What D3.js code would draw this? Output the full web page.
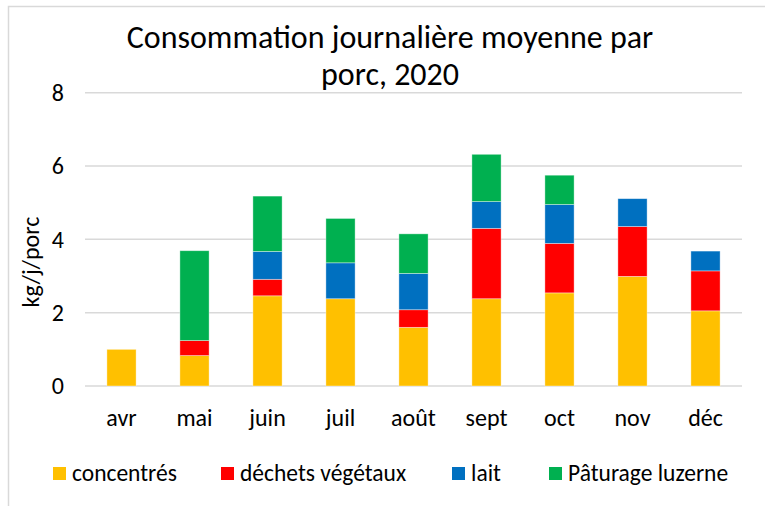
<!DOCTYPE html>
<html>
<head>
<meta charset="utf-8">
<script src="https://cdn.jsdelivr.net/npm/d3@7"></script>
<style>
  body { margin: 0; background: #fff; }
  svg { display: block; font-family: Carlito, Calibri, Lato, sans-serif; }
</style>
</head>
<body>
<div id="chart"></div>
<script>
// données (kg/j/porc)
const months = ["avr", "mai", "juin", "juil", "août", "sept", "oct", "nov", "déc"];
const concentres = [1.00, 0.83, 2.46, 2.38, 1.60, 2.38, 2.54, 2.99, 2.05];
const dechets = [0, 0.41, 0.45, 0, 0.48, 1.92, 1.35, 1.36, 1.09];
const lait = [0, 0, 0.76, 0.98, 0.99, 0.73, 1.06, 0.76, 0.54];
const paturage = [0, 2.45, 1.51, 1.21, 1.08, 1.29, 0.80, 0, 0];
const seriesNames = ["concentrés", "déchets végétaux", "lait", "Pâturage luzerne"];
const seriesColors = ["#FFC000", "#FF0000", "#0070C0", "#00B050"];
const yTicks = [0, 2, 4, 6, 8];

const width = 765, height = 506;

const svg = d3.select("#chart").append("svg")
  .attr("width", width)
  .attr("height", height);

svg.append("rect").attr("width", width).attr("height", height).attr("fill", "#fff");

// cadre du graphique
svg.append("path")
  .attr("d", `M8.5,${height}V6.5H${width}`)
  .attr("fill", "none")
  .attr("stroke", "#d9d9d9")
  .attr("stroke-width", 1.5);

const x = d3.scaleBand()
  .domain(months)
  .range([85, 742])
  .paddingInner(0.6)
  .paddingOuter(0.3);

const y = d3.scaleLinear()
  .domain([0, 8])
  .range([386, 92.7]);

// lignes de quadrillage
svg.append("g")
  .selectAll("line")
  .data(yTicks)
  .enter()
  .append("line")
  .attr("x1", 85)
  .attr("x2", 742)
  .attr("y1", d => y(d))
  .attr("y2", d => y(d))
  .attr("stroke", "#d9d9d9")
  .attr("stroke-width", 1.5);

// étiquettes de l'axe Y
svg.append("g")
  .selectAll("text")
  .data(yTicks)
  .enter()
  .append("text")
  .attr("x", 64)
  .attr("y", d => y(d))
  .attr("dy", "0.35em")
  .attr("text-anchor", "end")
  .attr("fill", "#000")
  .style("font-size", "24px")
  .text(d => d);

// tableau pour d3.stack
const table = months.map((m, i) => ({
  month: m,
  "concentrés": concentres[i],
  "déchets végétaux": dechets[i],
  "lait": lait[i],
  "Pâturage luzerne": paturage[i]
}));

const stacked = d3.stack().keys(seriesNames)(table);

svg.append("g")
  .selectAll("g")
  .data(stacked)
  .enter()
  .append("g")
  .attr("fill", (d, i) => seriesColors[i])
  .selectAll("rect")
  .data(d => d.filter(p => p[1] - p[0] > 0))
  .enter()
  .append("rect")
  .attr("x", d => x(d.data.month))
  .attr("width", x.bandwidth())
  .attr("y", d => y(d[1]))
  .attr("height", d => y(d[0]) - y(d[1]))
  .attr("stroke", "#fff")
  .attr("stroke-opacity", 0.5)
  .attr("stroke-width", 0.75);

// étiquettes de l'axe X
svg.append("g")
  .selectAll("text")
  .data(months)
  .enter()
  .append("text")
  .attr("x", d => x(d) + x.bandwidth() / 2)
  .attr("y", 426)
  .attr("text-anchor", "middle")
  .attr("fill", "#000")
  .style("font-size", "24px")
  .text(d => d);

// titre
const title = svg.append("text")
  .attr("text-anchor", "middle")
  .attr("fill", "#000")
  .style("font-size", "32px");
title.append("tspan").attr("x", 390).attr("y", 48).text("Consommation journalière moyenne par");
title.append("tspan").attr("x", 390).attr("y", 85).text("porc, 2020");

// titre de l'axe Y
svg.append("text")
  .attr("transform", "translate(39,262) rotate(-90)")
  .attr("text-anchor", "middle")
  .attr("fill", "#000")
  .style("font-size", "24px")
  .text("kg/j/porc");

// légende
const legendX = [53, 221, 452, 549];
const legend = svg.append("g")
  .selectAll("g")
  .data(seriesNames)
  .enter()
  .append("g")
  .attr("transform", (d, i) => `translate(${legendX[i]},467)`);

legend.append("rect")
  .attr("width", 13)
  .attr("height", 13)
  .attr("fill", (d, i) => seriesColors[i]);

legend.append("text")
  .attr("x", 19)
  .attr("y", 14)
  .attr("fill", "#000")
  .style("font-size", "23.5px")
  .text(d => d);
</script>
</body>
</html>
